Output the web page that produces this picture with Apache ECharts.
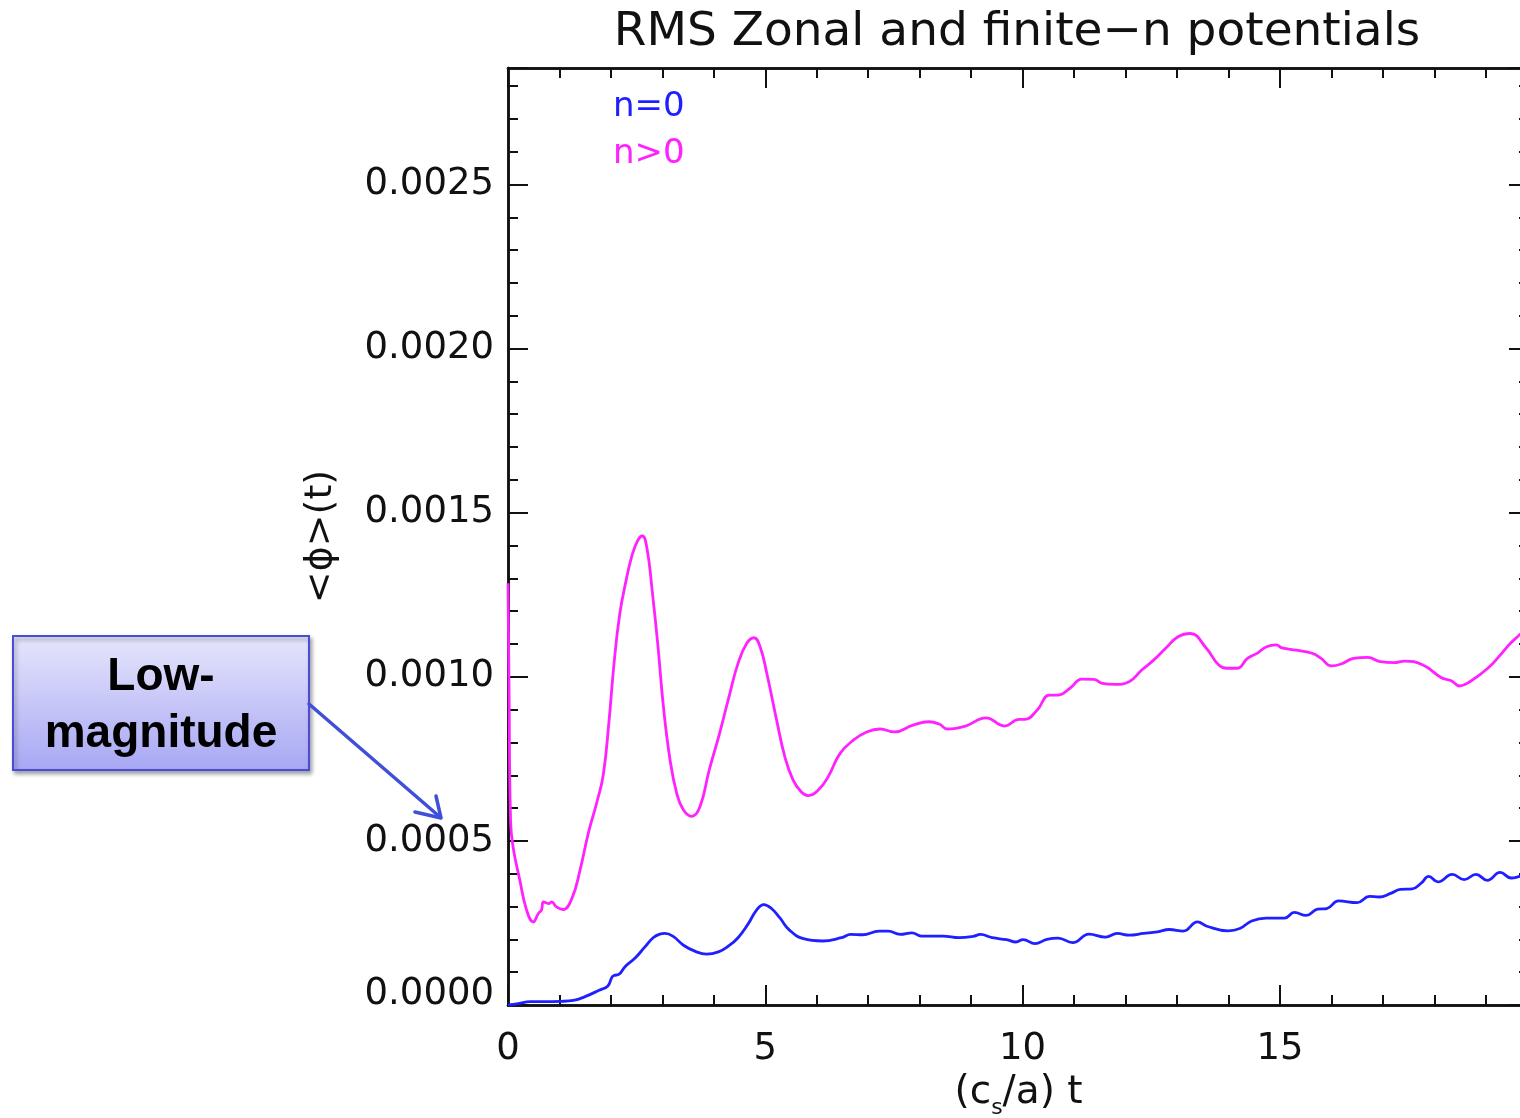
<!DOCTYPE html>
<html>
<head>
<meta charset="utf-8">
<title>RMS Zonal and finite-n potentials</title>
<script src="https://cdn.jsdelivr.net/npm/echarts@6/dist/echarts.min.js"></script>
<style>
  html, body { margin: 0; padding: 0; background: #ffffff; overflow: hidden; }
  #chart { width: 1520px; height: 1118px; }
</style>
</head>
<body>
<div id="chart"></div>
<script>
// Time axis (c_s/a) t and RMS potential samples for the two mode groups.
const tZonal = [0, 0.2, 0.43, 0.7, 1.01, 1.27, 1.52, 1.77, 1.94, 2.02, 2.06, 2.16, 2.27, 2.47, 2.66, 2.82, 2.95, 3.05, 3.21, 3.41, 3.63, 3.86, 4.09, 4.28, 4.47, 4.67, 4.83, 4.97, 5.12, 5.28, 5.47, 5.74, 6.11, 6.48, 6.66, 6.89, 7.21, 7.39, 7.62, 7.85, 8.03, 8.45, 8.77, 9.04, 9.18, 9.41, 9.69, 9.87, 10.01, 10.24, 10.47, 10.69, 10.97, 11.29, 11.61, 11.84, 12.07, 12.35, 12.62, 12.85, 13.12, 13.40, 13.58, 13.99, 14.22, 14.45, 14.73, 15.09, 15.28, 15.51, 15.73, 15.91, 16.14, 16.50, 16.74, 16.93, 17.15, 17.34, 17.57, 17.75, 17.89, 18.07, 18.35, 18.58, 18.81, 19.03, 19.28, 19.49, 19.66, 19.84];
const phiZonal = [0, 0.000004, 0.00001, 0.00001, 0.000011, 0.000014, 0.000027, 0.000045, 0.000058, 0.000085, 0.00009, 0.000094, 0.000116, 0.000143, 0.000177, 0.000205, 0.000216, 0.000218, 0.000209, 0.000182, 0.000164, 0.000155, 0.000162, 0.000179, 0.000205, 0.000248, 0.000289, 0.000306, 0.000294, 0.000266, 0.000228, 0.000202, 0.000195, 0.000205, 0.000215, 0.000214, 0.000225, 0.000225, 0.000215, 0.00022, 0.00021, 0.00021, 0.000205, 0.000209, 0.000215, 0.000205, 0.000199, 0.000192, 0.000199, 0.000187, 0.0002, 0.000204, 0.00019, 0.000216, 0.000207, 0.000218, 0.000213, 0.000218, 0.000223, 0.00023, 0.000225, 0.000253, 0.00024, 0.000226, 0.000233, 0.000256, 0.000265, 0.000265, 0.000282, 0.000273, 0.000292, 0.000294, 0.000317, 0.000312, 0.000331, 0.000329, 0.00034, 0.000352, 0.000354, 0.000372, 0.000392, 0.000375, 0.000398, 0.000382, 0.000398, 0.00038, 0.000404, 0.000387, 0.000392, 0.0004];

const tFinite = [0, 0.02, 0.05, 0.1, 0.23, 0.36, 0.49, 0.59, 0.65, 0.69, 0.79, 0.85, 0.94, 1.07, 1.24, 1.40, 1.56, 1.72, 1.85, 1.96, 2.06, 2.17, 2.29, 2.41, 2.52, 2.61, 2.70, 2.80, 2.91, 3.02, 3.15, 3.28, 3.41, 3.57, 3.73, 3.91, 4.11, 4.31, 4.47, 4.64, 4.78, 4.90, 5.03, 5.22, 5.38, 5.54, 5.70, 5.83, 6.03, 6.22, 6.45, 6.71, 6.97, 7.23, 7.51, 7.87, 8.18, 8.38, 8.54, 8.89, 9.29, 9.65, 9.93, 10.04, 10.28, 10.52, 10.68, 10.92, 11.15, 11.39, 11.55, 11.79, 12.07, 12.31, 12.54, 12.78, 13.02, 13.26, 13.57, 13.81, 13.97, 14.17, 14.37, 14.57, 14.73, 14.93, 15.04, 15.32, 15.64, 15.80, 16.00, 16.19, 16.43, 16.71, 16.95, 17.22, 17.42, 17.78, 18.13, 18.33, 18.49, 18.69, 19.04, 19.28, 19.48, 19.67, 19.84];
const phiFinite = [0.001285, 0.00097, 0.00056, 0.00048, 0.00038, 0.00029, 0.000253, 0.000279, 0.000289, 0.000314, 0.000309, 0.000314, 0.000299, 0.000291, 0.000324, 0.000411, 0.000523, 0.000614, 0.000700, 0.000860, 0.001040, 0.001190, 0.001290, 0.001370, 0.001415, 0.001429, 0.001392, 0.001265, 0.001100, 0.000909, 0.000746, 0.000644, 0.000594, 0.000575, 0.000604, 0.000716, 0.000827, 0.000949, 0.001041, 0.001102, 0.001119, 0.001091, 0.00101, 0.000868, 0.000756, 0.000685, 0.000649, 0.000638, 0.000655, 0.000695, 0.000766, 0.000807, 0.000832, 0.000841, 0.000832, 0.000853, 0.000863, 0.000856, 0.000841, 0.00085, 0.000875, 0.00085, 0.00087, 0.00087, 0.000898, 0.000944, 0.000944, 0.000965, 0.000993, 0.000992, 0.00098, 0.000977, 0.000985, 0.00102, 0.00105, 0.001087, 0.001122, 0.001132, 0.001087, 0.001036, 0.001026, 0.001026, 0.001056, 0.001073, 0.001091, 0.001097, 0.001088, 0.001081, 0.001071, 0.001056, 0.001033, 0.001039, 0.001056, 0.001059, 0.001046, 0.001043, 0.001048, 0.001036, 0.000998, 0.000988, 0.000972, 0.000985, 0.001026, 0.001066, 0.001102, 0.00113, 0.00116];

const seriesNames = ['n=0', 'n>0'];
const seriesColors = ['#1f1fff', '#ff22ff'];

// Axis ranges and tick steps
const tMax = 19.84;
const phiMax = 0.002855;
const tMajor = 5, tMinor = 1;
const phiMajor = 0.0005, phiMinor = 0.0001;

const zip = (xs, ys) => xs.map((x, i) => [x, ys[i]]);

const AXIS_COLOR = '#111111';
const FONT = '"DejaVu Sans", sans-serif';

const isMultiple = (v, step) => Math.abs(v / step - Math.round(v / step)) < 1e-6;

function xAxisDef(position, step, tickLen, withLabels) {
  return {
    type: 'value', position, min: 0, max: tMax, interval: step,
    axisLine: { show: true, onZero: false, lineStyle: { color: AXIS_COLOR, width: 2.5 } },
    axisTick: { show: true, inside: true, length: tickLen, lineStyle: { color: AXIS_COLOR, width: 2 } },
    splitLine: { show: false },
    axisLabel: withLabels ? {
      show: true, margin: 26, color: '#111', fontFamily: FONT, fontSize: 37,
      formatter: v => isMultiple(v, tMajor) ? String(Math.round(v)) : ''
    } : { show: false }
  };
}

function yAxisDef(position, step, tickLen, withLabels) {
  return {
    type: 'value', position, min: 0, max: phiMax, interval: step,
    axisLine: { show: true, onZero: false, lineStyle: { color: AXIS_COLOR, width: 2.5 } },
    axisTick: { show: true, inside: true, length: tickLen, lineStyle: { color: AXIS_COLOR, width: 2 } },
    splitLine: { show: false },
    axisLabel: withLabels ? {
      show: true, margin: 14, color: '#111', fontFamily: FONT, fontSize: 37,
      formatter: v => {
        if (!isMultiple(v, phiMajor)) return '';
        const s = v.toFixed(4);
        return v === 0 ? '{lo|' + s + '}' : s;
      },
      rich: { lo: { fontFamily: FONT, fontSize: 37, color: '#111', padding: [0, 0, 22, 0] } }
    } : { show: false }
  };
}

const xMain = xAxisDef('bottom', tMajor, 20, true);
xMain.name = '{m|(c}{s|s}{m|/a) t}';
xMain.nameLocation = 'middle';
xMain.nameGap = 67;
xMain.nameTextStyle = {
  color: '#111', fontFamily: FONT, fontSize: 39,
  rich: {
    m: { fontFamily: FONT, fontSize: 39, color: '#111', lineHeight: 44, verticalAlign: 'top' },
    s: { fontFamily: FONT, fontSize: 22, color: '#111', lineHeight: 44, verticalAlign: 'top', padding: [24, 0, 0, 0] }
  }
};

const yMain = yAxisDef('left', phiMajor, 20, true);
yMain.name = '<\u03D5>(t)';
yMain.nameLocation = 'middle';
yMain.nameGap = 168;
yMain.nameTextStyle = { color: '#111', fontFamily: FONT, fontSize: 38 };

const option = {
  animation: false,
  backgroundColor: '#ffffff',
  grid: { left: 508, top: 68, width: 1021, height: 937, containLabel: false, outerBoundsMode: 'none' },
  xAxis: [
    xMain,
    xAxisDef('bottom', tMinor, 10, false),
    xAxisDef('top', tMajor, 20, false),
    xAxisDef('top', tMinor, 10, false)
  ],
  yAxis: [
    yMain,
    yAxisDef('left', phiMinor, 10, false),
    yAxisDef('right', phiMajor, 20, false),
    yAxisDef('right', phiMinor, 10, false)
  ],
  legend: {
    orient: 'vertical', left: 603, top: 84,
    itemWidth: 0, itemHeight: 0, itemGap: 11,
    selectedMode: false,
    textStyle: { fontFamily: FONT, fontSize: 34, lineHeight: 36 },
    data: seriesNames.map((n, i) => ({ name: n, icon: 'none', textStyle: { color: seriesColors[i] } }))
  },
  series: [
    {
      name: seriesNames[0], type: 'line', xAxisIndex: 0, yAxisIndex: 0,
      data: zip(tZonal, phiZonal), showSymbol: false, symbol: 'none',
      smooth: 0.45,
      lineStyle: { color: seriesColors[0], width: 2.8 }, itemStyle: { color: seriesColors[0] }
    },
    {
      name: seriesNames[1], type: 'line', xAxisIndex: 0, yAxisIndex: 0,
      data: zip(tFinite, phiFinite), showSymbol: false, symbol: 'none',
      smooth: 0.45,
      lineStyle: { color: seriesColors[1], width: 2.8 }, itemStyle: { color: seriesColors[1] }
    }
  ],
  graphic: [
    {
      type: 'text', x: 1017, y: 33,
      style: {
        text: 'RMS Zonal and finite\u2212n potentials',
        font: '47px "DejaVu Sans", sans-serif', fill: '#111',
        align: 'center', verticalAlign: 'middle'
      }
    },
    {
      type: 'rect',
      shape: { x: 13, y: 636, width: 296, height: 134 },
      style: {
        fill: new echarts.graphic.LinearGradient(0, 0, 0, 1, [
          { offset: 0, color: '#e6e6fc' },
          { offset: 1, color: '#a7a7f4' }
        ]),
        stroke: '#4b4bd8', lineWidth: 2,
        shadowBlur: 4, shadowOffsetX: 2, shadowOffsetY: 3, shadowColor: 'rgba(0,0,0,0.35)'
      },
      z: 10
    },
    {
      type: 'text', x: 161, y: 706,
      style: {
        text: 'Low-\nmagnitude',
        font: 'bold 46px "Liberation Sans", Arial, sans-serif', fill: '#000',
        align: 'center', verticalAlign: 'middle', lineHeight: 57
      },
      z: 11
    },
    {
      type: 'line',
      shape: { x1: 309, y1: 704, x2: 440, y2: 817 },
      style: { stroke: '#3f4fd8', lineWidth: 3.5, lineCap: 'round' },
      z: 10
    },
    {
      type: 'polyline',
      shape: { points: [[415, 812], [441, 818], [436, 796]] },
      style: { stroke: '#3f4fd8', lineWidth: 3.5, fill: null, lineCap: 'round', lineJoin: 'round' },
      z: 10
    }
  ]
};

const chart = echarts.init(document.getElementById('chart'), null, { renderer: 'canvas' });
chart.setOption(option);
</script>
</body>
</html>
